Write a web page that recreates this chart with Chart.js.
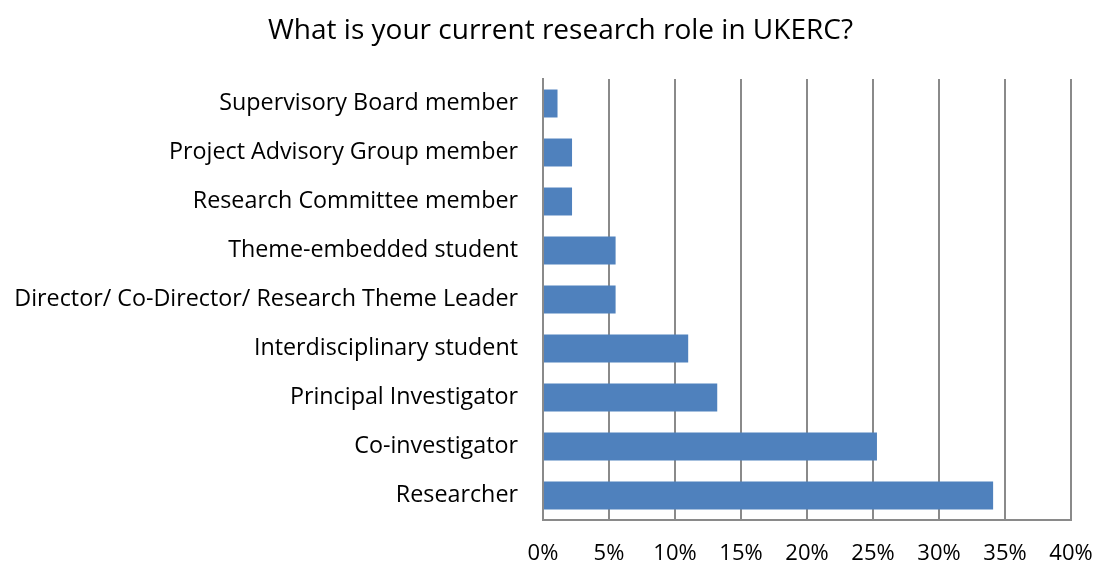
<!DOCTYPE html>
<html>
<head>
<meta charset="utf-8">
<script src="https://cdn.jsdelivr.net/npm/chart.js@4/dist/chart.umd.min.js"></script>
<style>
  html, body { margin: 0; padding: 0; background: #fff; }
  #wrap { width: 1100px; height: 565px; }
</style>
</head>
<body>
<div id="wrap"><canvas id="c" width="1100" height="565"></canvas></div>
<script>
// Survey question and answer categories (top to bottom)
const chartTitle = 'What is your current research role in UKERC?';
const roles = [
  'Supervisory Board member',
  'Project Advisory Group member',
  'Research Committee member',
  'Theme-embedded student',
  'Director/ Co-Director/ Research Theme Leader',
  'Interdisciplinary student',
  'Principal Investigator',
  'Co-investigator',
  'Researcher'
];
// Share of respondents, percent
const shares = [1.1, 2.2, 2.2, 5.5, 5.5, 11.0, 13.2, 25.3, 34.1];
// Value axis range and step, percent
const axisMin = 0;
const axisMax = 40;
const axisStep = 5;

const FONT = '"Open Sans", Lato, sans-serif';
const gridGrey = '#8a8a8a';

// Title centred over the whole figure area (labels + plot), slightly right of the canvas centre
const titlePlugin = {
  id: 'figureTitle',
  afterDraw(chart) {
    const ctx = chart.ctx;
    ctx.save();
    ctx.font = `28px ${FONT}`;
    ctx.fillStyle = '#000';
    ctx.textAlign = 'center';
    ctx.textBaseline = 'middle';
    ctx.fillText(chartTitle, 560.5, 31);
    ctx.restore();
  }
};

new Chart(document.getElementById('c'), {
  type: 'bar',
  data: {
    labels: roles,
    datasets: [{
      data: shares,
      backgroundColor: '#4f81bd',
      borderWidth: 0,
      barPercentage: 0.571,
      categoryPercentage: 1.0
    }]
  },
  options: {
    indexAxis: 'y',
    responsive: false,
    animation: false,
    devicePixelRatio: 1,
    layout: { padding: { left: 0, right: 0, top: 79, bottom: 0 } },
    plugins: {
      legend: { display: false },
      tooltip: { enabled: false },
      title: { display: false }
    },
    scales: {
      x: {
        min: axisMin,
        max: axisMax,
        ticks: {
          stepSize: axisStep,
          color: '#000',
          padding: 21,
          font: { family: FONT, size: 22 },
          callback: v => v + '%'
        },
        grid: { color: gridGrey, lineWidth: 2, drawTicks: false },
        border: { color: gridGrey, width: 2 },
        // keep the plot's right edge clear of the last tick label
        afterFit: s => { s.height = 45; s.paddingLeft = 0; s.paddingRight = 29; }
      },
      y: {
        ticks: {
          color: '#000',
          padding: 25,
          font: { family: FONT, size: 23.3 }
        },
        grid: { display: false, drawTicks: false },
        border: { color: gridGrey, width: 2 },
        afterFit: s => { s.width = 543; s.paddingTop = 0; s.paddingBottom = 0; }
      }
    }
  },
  plugins: [titlePlugin]
});
</script>
</body>
</html>
